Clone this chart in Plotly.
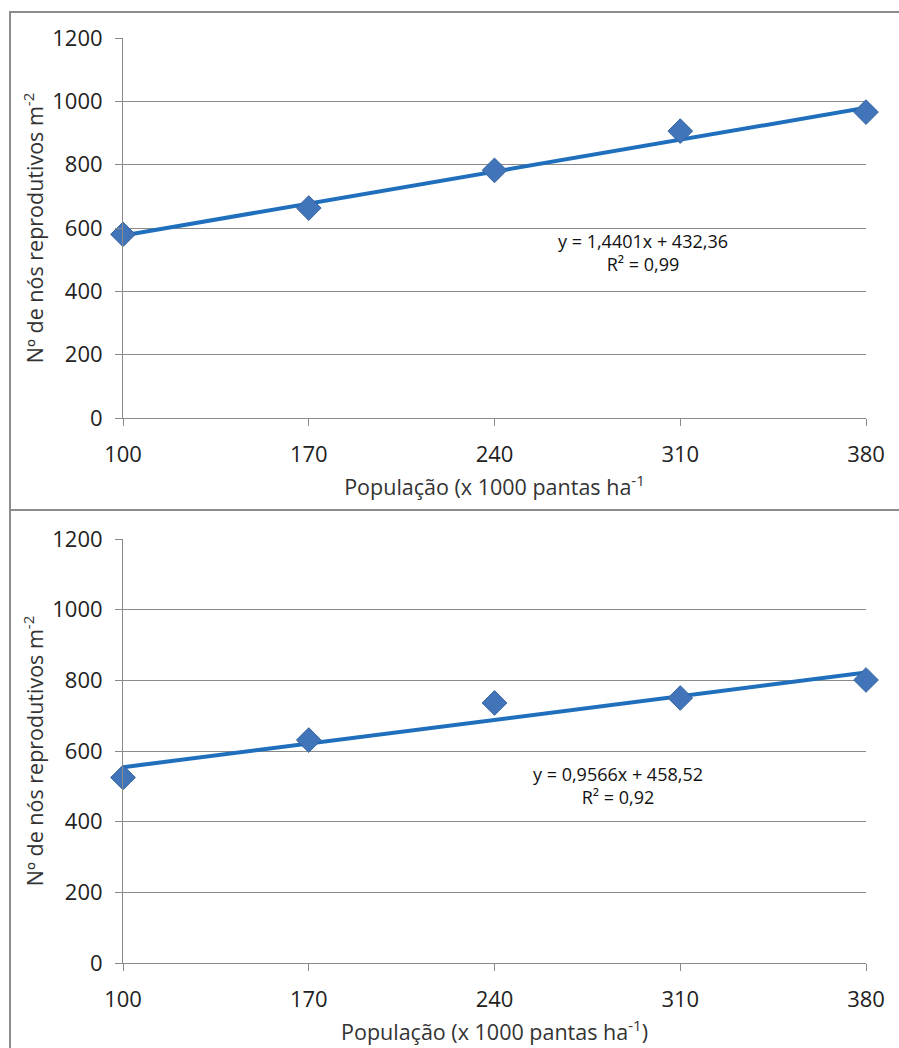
import plotly.graph_objects as go

# Population (x 1000 plants/ha) and reproductive nodes per m2
populacao = [100, 170, 240, 310, 380]
nos_top = [580, 663, 782, 906, 966]
nos_bottom = [525, 631, 736, 750, 801]

# Linear fit coefficients (slope, intercept) and R2 shown on each panel
fit_top = (1.4401, 432.36, "0,99")
fit_bottom = (0.9566, 458.52, "0,92")

x_ticks = [100, 170, 240, 310, 380]
y_ticks = [0, 200, 400, 600, 800, 1000, 1200]

W, H = 899, 1048
FONT = "Open Sans"
LINE_BLUE = "#1F6FBC"
MARK_BLUE = "#4274B9"
GRID = "#8A8A8A"

def px_x(p):
    return p / W

def px_y(p):
    return 1 - p / H

fig = go.Figure()

panels = [
    dict(y=nos_top, fit=fit_top, xa="x", ya="y", top=38, bot=418,
         xtitle="População (x 1000 pantas ha<sup>-1</sup>", ann_x=643, ann_y=253),
    dict(y=nos_bottom, fit=fit_bottom, xa="x2", ya="y2", top=539, bot=963,
         xtitle="População (x 1000 pantas ha<sup>-1</sup>)", ann_x=618, ann_y=785),
]

for i, p in enumerate(panels):
    a, b, r2 = p["fit"]
    fit_y = [a * x + b for x in (populacao[0], populacao[-1])]
    fig.add_trace(go.Scatter(
        x=[populacao[0], populacao[-1]], y=fit_y, mode="lines",
        line=dict(color=LINE_BLUE, width=4), xaxis=p["xa"], yaxis=p["ya"],
        showlegend=False, hoverinfo="skip", cliponaxis=False))
    fig.add_trace(go.Scatter(
        x=populacao, y=p["y"], mode="markers", cliponaxis=False,
        marker=dict(symbol="diamond", size=19, color=MARK_BLUE,
                    line=dict(color="#36649F", width=1)),
        xaxis=p["xa"], yaxis=p["ya"], showlegend=False))

    sfx = "" if i == 0 else str(i + 1)
    fig.update_layout(**{
        "xaxis" + sfx: dict(
            domain=[px_x(123), px_x(866)], range=[100, 380], automargin=False,
            tickvals=x_ticks, ticks="outside", ticklen=7, tickcolor=GRID,
            showline=True, linecolor=GRID, linewidth=1, showgrid=False,
            zeroline=False, anchor="y" + sfx, ticklabelstandoff=10,
            tickfont=dict(family=FONT, size=22, color="#222"),
            title=dict(text=p["xtitle"], font=dict(family=FONT, size=21.5, color="#333"),
                       standoff=12)),
        "yaxis" + sfx: dict(
            domain=[px_y(p["bot"]), px_y(p["top"])], range=[0, 1200], automargin=False,
            tickvals=y_ticks, ticks="outside", ticklen=7, tickcolor=GRID,
            showline=True, linecolor=GRID, linewidth=1, showgrid=True,
            gridcolor=GRID, gridwidth=1, zeroline=False, anchor="x" + sfx,
            ticklabelstandoff=8,
            tickfont=dict(family=FONT, size=22, color="#222"),
            title=dict(text="Nº de nós reprodutivos m<sup>-2</sup>",
                       font=dict(family=FONT, size=21.5, color="#333"), standoff=2)),
    })

    fig.add_annotation(
        x=px_x(p["ann_x"]), y=px_y(p["ann_y"]), xref="paper", yref="paper",
        xanchor="center", yanchor="middle",
        text=f"y = {str(a).replace('.', ',')}x + {str(b).replace('.', ',')}<br>R² = {r2}",
        showarrow=False, align="center",
        font=dict(family=FONT, size=18, color="#111"))

# Panel frames
fig.add_shape(type="rect", xref="paper", yref="paper",
              x0=px_x(10), x1=1.02, y0=px_y(510), y1=px_y(12),
              line=dict(color="#8C8C8C", width=2))
fig.add_shape(type="rect", xref="paper", yref="paper",
              x0=px_x(10), x1=1.02, y0=-0.02, y1=px_y(510),
              line=dict(color="#8C8C8C", width=2))

fig.update_layout(
    width=W, height=H, margin=dict(l=0, r=0, t=0, b=0),
    paper_bgcolor="white", plot_bgcolor="white",
)

fig.write_html("out.html")
